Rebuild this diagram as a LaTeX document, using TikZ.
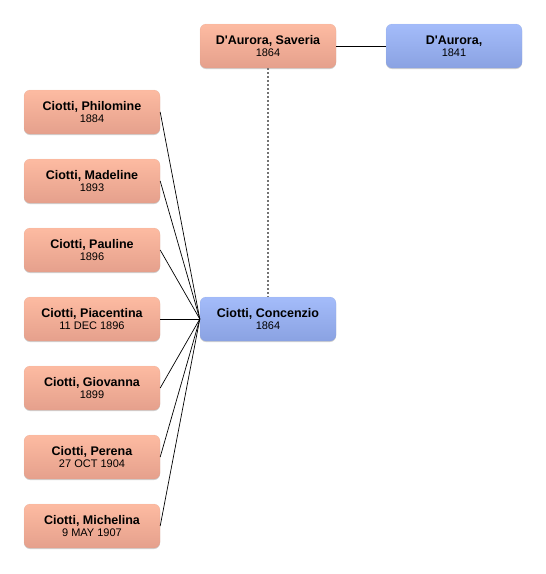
\documentclass[tikz,border=0pt]{standalone}
\usepackage{fontspec}
\setmainfont{Liberation Sans}
\usetikzlibrary{shadows}
\definecolor{salmonT}{HTML}{FDBBA2}
\definecolor{salmonB}{HTML}{E5A08C}
\definecolor{blueT}{HTML}{A4BCFA}
\definecolor{blueB}{HTML}{8AA2E2}
\tikzset{
  person/.style={rounded corners=6pt, minimum width=136pt, minimum height=44pt, inner sep=0pt,
    align=center, font=\fontsize{11}{13}\selectfont,
    drop shadow={shadow xshift=0pt, shadow yshift=-1pt, opacity=0.18, fill=black}},
  female/.style={person, top color=salmonT, bottom color=salmonB, draw=salmonB!90!black, draw opacity=0.25},
  male/.style={person, top color=blueT, bottom color=blueB, draw=blueB!90!black, draw opacity=0.25},
  link/.style={black, line width=0.7pt},
  kin/.style={black!55, line width=1.1pt, dash pattern=on 2pt off 2pt}
}
\newcommand{\pn}[2]{\raisebox{-2pt}[\height][\depth]{\begin{tabular}{@{}c@{}}{\fontsize{12.5}{14}\selectfont\bfseries #1}\\[-0.5pt]#2\end{tabular}}}
\begin{document}
\begin{tikzpicture}[x=1pt,y=-1pt]
\useasboundingbox (0,0) rectangle (546,574);
\node[female] (saveria) at (268,46) {\pn{D\textquotesingle Aurora, Saveria}{1864}};
\node[male] (daurora) at (454,46) {\pn{D\textquotesingle Aurora,}{1841}};
\node[male] (concenzio) at (268,319) {\pn{Ciotti, Concenzio}{1864}};
\node[female] (c1) at (92,112) {\pn{Ciotti, Philomine}{1884}};
\node[female] (c2) at (92,181) {\pn{Ciotti, Madeline}{1893}};
\node[female] (c3) at (92,250) {\pn{Ciotti, Pauline}{1896}};
\node[female] (c4) at (92,319) {\pn{Ciotti, Piacentina}{11 DEC 1896}};
\node[female] (c5) at (92,388) {\pn{Ciotti, Giovanna}{1899}};
\node[female] (c6) at (92,457) {\pn{Ciotti, Perena}{27 OCT 1904}};
\node[female] (c7) at (92,526) {\pn{Ciotti, Michelina}{9 MAY 1907}};
\draw[link] (saveria.east) -- (daurora.west);
\draw[kin] (saveria.south) -- (concenzio.north);
\foreach \i in {1,...,7} {\draw[link] (c\i.east) -- (concenzio.west);}
\end{tikzpicture}
\end{document}
